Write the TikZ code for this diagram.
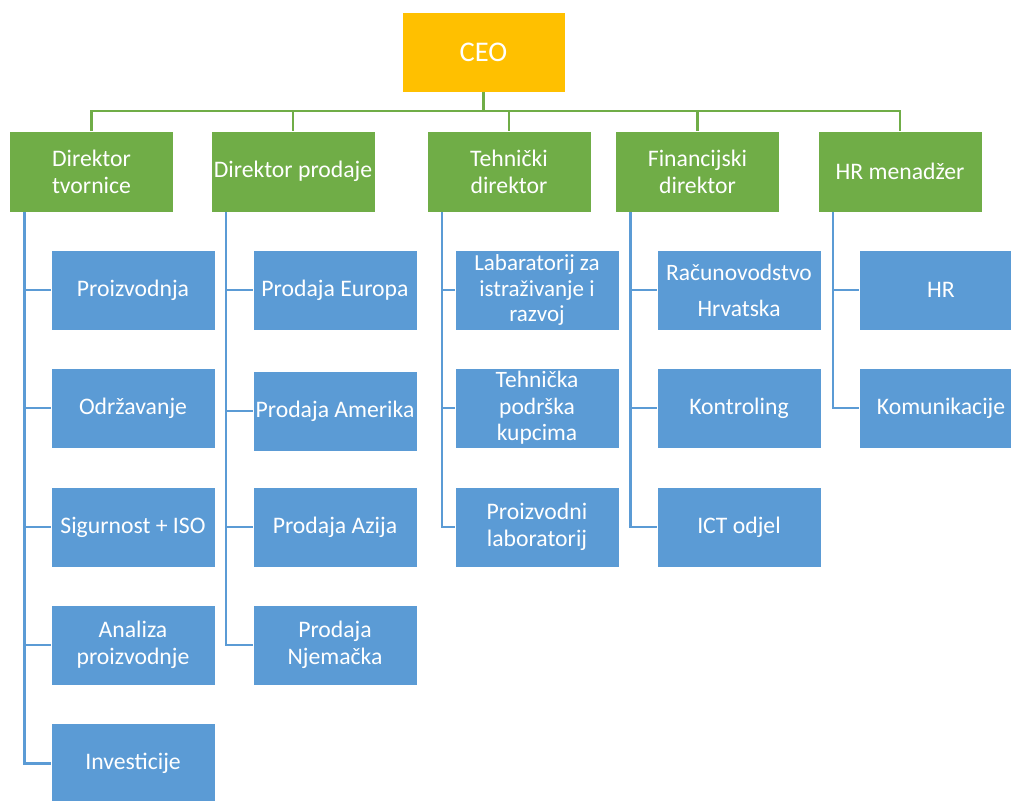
\documentclass[tikz,border=0pt]{standalone}
\usepackage{fontspec}
\setmainfont{Carlito}
\usetikzlibrary{calc}
\definecolor{ceoyellow}{HTML}{FFC000}
\definecolor{mgreen}{HTML}{70AD47}
\definecolor{cblue}{HTML}{5B9BD5}
\tikzset{
  base/.style={align=center, text=white, inner sep=0pt, outer sep=0pt, draw=white, line width=0.6pt,
    font=\fontsize{23.7}{27}\selectfont},
  ceobox/.style={base, fill=ceoyellow, minimum width=163pt, minimum height=80pt, font=\fontsize{28.5}{32}\selectfont},
  mgrbox/.style={base, fill=mgreen, minimum width=164pt, minimum height=81pt},
  deptbox/.style={base, fill=cblue, minimum width=164pt, minimum height=80pt},
  gline/.style={draw=mgreen, line width=2.8pt},
  bline/.style={draw=cblue, line width=2.9pt},
}
\begin{document}
\begin{tikzpicture}[x=1pt, y=1pt]
\useasboundingbox (0,0) rectangle (1011,-800);
\fill[white] (0,0) rectangle (1011,-800);

% CEO
\node[ceobox] (ceo) at (483.5,-52) {CEO};

% managers
\node[mgrbox] (g1) at (91.5,-171.5) {Direktor\\tvornice};
\node[mgrbox] (g2) at (293,-171.5) {Direktor prodaje};
\node[mgrbox] (g3) at (509,-171.5) {Tehnički\\direktor};
\node[mgrbox] (g4) at (697.5,-171.5) {Financijski\\direktor};
\node[mgrbox] (g5) at (900,-171.5) {HR menadžer};

% green connectors
\coordinate (bus) at (483.5,-111);
\draw[gline] (ceo.south) -- (bus);
\draw[gline, line cap=rect] (g1.north |- bus) -- (g5.north |- bus);
\foreach \g in {g1,g2,g3,g4,g5} \draw[gline] (\g.north |- bus) -- (\g.north);

% column 1
\node[deptbox] (a1) at (133,-290) {Proizvodnja};
\node[deptbox] (a2) at (133,-408) {Održavanje};
\node[deptbox] (a3) at (133,-527) {Sigurnost + ISO};
\node[deptbox] (a4) at (133,-645) {Analiza\\proizvodnje};
\node[deptbox] (a5) at (133,-763.5) {Investicije};

% column 2
\node[deptbox] (b1) at (335,-290) {Prodaja Europa};
\node[deptbox] (b2) at (335,-411) {Prodaja Amerika};
\node[deptbox] (b3) at (335,-527) {Prodaja Azija};
\node[deptbox] (b4) at (335,-645) {Prodaja\\Njemačka};

% column 3
\node[deptbox, font=\fontsize{23}{25.5}\selectfont] (c1) at (537,-290) {Labaratorij za\\istraživanje i\\razvoj};
\node[deptbox, font=\fontsize{23.5}{26.5}\selectfont] (c2) at (537,-408) {Tehnička\\podrška\\kupcima};
\node[deptbox] (c3) at (537,-527) {Proizvodni\\laboratorij};

% column 4
\node[deptbox, font=\fontsize{23.5}{36}\selectfont] (d1) at (739,-290) {Računovodstvo\\Hrvatska};
\node[deptbox] (d2) at (739,-408) {Kontroling};
\node[deptbox] (d3) at (739,-527) {ICT odjel};

% column 5
\node[deptbox] (e1) at (941,-290) {HR};
\node[deptbox] (e2) at (941,-408) {Komunikacije};

% blue connectors
\coordinate (v1) at ($(g1.south west)+(15,0)$);
\coordinate (v2) at ($(g2.south west)+(15,0)$);
\coordinate (v3) at ($(g3.south west)+(15,0)$);
\coordinate (v4) at ($(g4.south west)+(15,0)$);
\coordinate (v5) at ($(g5.south west)+(15,0)$);
\foreach \n in {a1,a2,a3,a4,a5} \draw[bline] (v1) |- (\n.west);
\foreach \n in {b1,b2,b3,b4} \draw[bline] (v2) |- (\n.west);
\foreach \n in {c1,c2,c3} \draw[bline] (v3) |- (\n.west);
\foreach \n in {d1,d2,d3} \draw[bline] (v4) |- (\n.west);
\foreach \n in {e1,e2} \draw[bline] (v5) |- (\n.west);
\end{tikzpicture}
\end{document}
